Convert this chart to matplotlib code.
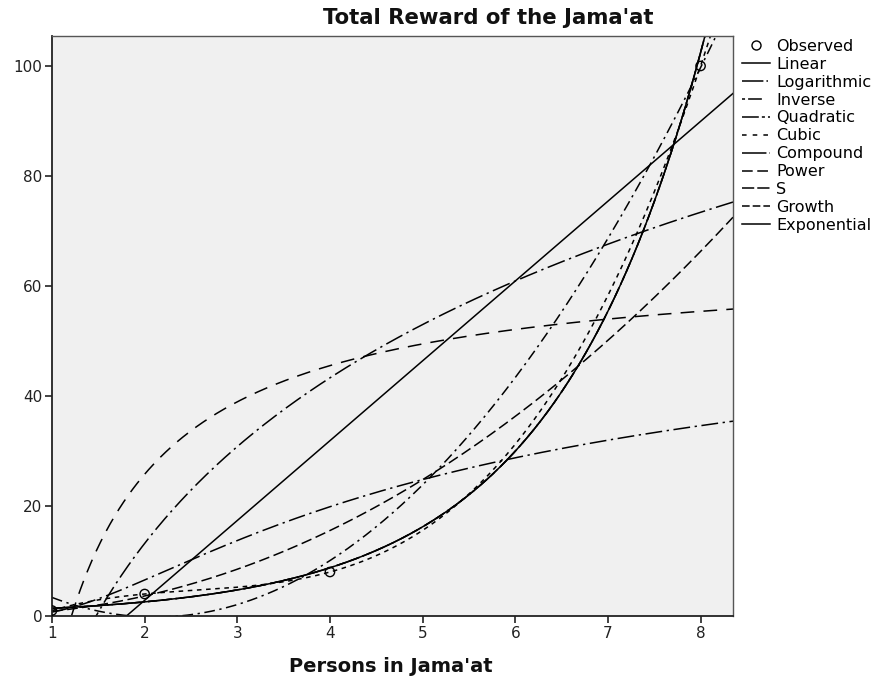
import numpy as np
import matplotlib
matplotlib.use("Agg")
import matplotlib.pyplot as plt
from matplotlib.lines import Line2D

# Observed data
persons = np.array([1, 2, 4, 8], dtype=float)
reward = np.array([1, 4, 8, 100], dtype=float)

model_names = ["Linear", "Logarithmic", "Inverse", "Quadratic", "Cubic",
               "Compound", "Power", "S", "Growth", "Exponential"]

plt.rcParams['font.family'] = ['DejaVu Sans']

x_min, x_max = 1.0, 8.35
y_min, y_max = 0.0, 105.45

xs = np.linspace(1.0, x_max, 600)
lx, ly = np.log(persons), np.log(reward)

def fits(x):
    out = {}
    b1, b0 = np.polyfit(persons, reward, 1); out["Linear"] = b0 + b1 * x
    b1, b0 = np.polyfit(lx, reward, 1); out["Logarithmic"] = b0 + b1 * np.log(x)
    b1, b0 = np.polyfit(1 / persons, reward, 1); out["Inverse"] = b0 + b1 / x
    out["Quadratic"] = np.polyval(np.polyfit(persons, reward, 2), x)
    out["Cubic"] = np.polyval(np.polyfit(persons, reward, 3), x)
    b1, b0 = np.polyfit(persons, ly, 1)
    out["Compound"] = np.exp(b0) * np.exp(b1) ** x
    out["Growth"] = np.exp(b0 + b1 * x)
    out["Exponential"] = np.exp(b0) * np.exp(b1 * x)
    b1, b0 = np.polyfit(lx, ly, 1); out["Power"] = np.exp(b0) * x ** b1
    b1, b0 = np.polyfit(1 / persons, ly, 1); out["S"] = np.exp(b0 + b1 / x)
    return out

styles = {
    "Linear": "-",
    "Logarithmic": (0, (12, 3, 1.5, 3)),
    "Inverse": (0, (9, 6)),
    "Quadratic": (0, (7, 3, 1.5, 3)),
    "Cubic": (0, (3, 3)),
    "Compound": (0, (16, 2, 1, 2)),
    "Power": (0, (7, 3)),
    "S": (0, (11, 3, 1.5, 3)),
    "Growth": (0, (6, 3)),
    "Exponential": "-",
}
legend_styles = dict(styles)
legend_styles["Logarithmic"] = (0, (14, 2, 1, 2))
legend_styles["Inverse"] = (0, (2, 2, 9, 8))
legend_styles["Quadratic"] = (0, (11, 2, 2, 2))
legend_styles["Cubic"] = (0, (3, 4))
legend_styles["S"] = (0, (8, 2))
legend_styles["Growth"] = (0, (5, 2))

fig = plt.figure(figsize=(8.77, 6.81), dpi=100)
ax = fig.add_axes([52 / 877, 1 - 616 / 681, (733 - 52) / 877, (616 - 36) / 681])
ax.set_facecolor('#f0f0f0')

curves = fits(xs)
for name in model_names:
    ax.plot(xs, curves[name], color='black', lw=1.1, linestyle=styles[name])

ax.scatter(persons, reward, s=45, facecolors='none', edgecolors='black', linewidths=1.0, zorder=5)

ax.set_xlim(x_min, x_max)
ax.set_ylim(y_min, y_max)
ax.set_xticks(range(1, 9))
ax.set_yticks(range(0, 101, 20))
ax.tick_params(direction='out', length=5, width=1.2, labelsize=11, colors='#222222', pad=2)
for s in ['left', 'bottom']:
    ax.spines[s].set_linewidth(1.3)
    ax.spines[s].set_color('#222222')
for s in ['top', 'right']:
    ax.spines[s].set_linewidth(1.0)
    ax.spines[s].set_color('#555555')

fig.text(488 / 877, 1 - 18 / 681, "Total Reward of the Jama'at", ha='center', va='center',
         fontsize=15.3, fontweight='bold', color='#111111')
fig.text(391 / 877, 1 - 666 / 681, "Persons in Jama'at", ha='center', va='center',
         fontsize=14, fontweight='bold', color='#111111')

handles = [Line2D([], [], marker='o', linestyle='none', markerfacecolor='none',
                  markeredgecolor='black', markersize=6.5)]
for name in model_names:
    handles.append(Line2D([], [], color='black', lw=1.1, linestyle=legend_styles[name]))
labels = ["Observed"] + model_names
fig.legend(handles, labels, loc='upper left', bbox_to_anchor=(742 / 877, 1 - 39 / 681),
           frameon=False, fontsize=11.5, handlelength=1.75, handletextpad=0.4,
           labelspacing=0.18, borderaxespad=0, borderpad=0)

fig.savefig("out.png", dpi=100)
